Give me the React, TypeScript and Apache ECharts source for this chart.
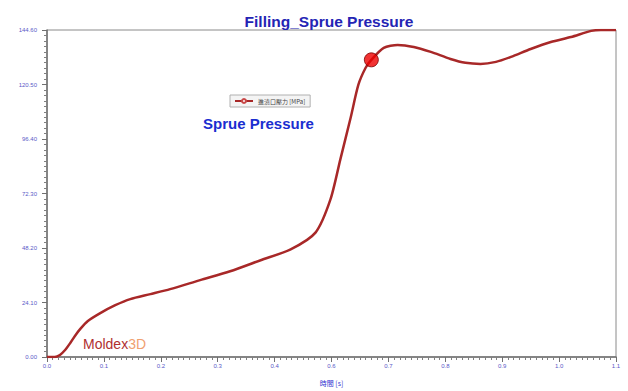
import React, { useEffect, useRef } from "react";
import * as echarts from "echarts";

const timeValues = [0.0, 0.015, 0.025, 0.035, 0.045, 0.054, 0.064, 0.079, 0.103, 0.132, 0.161, 0.2, 0.238, 0.296, 0.354, 0.413, 0.471, 0.519, 0.548, 0.567, 0.587, 0.602, 0.616, 0.627, 0.651, 0.678, 0.709, 0.742, 0.78, 0.809, 0.838, 0.868, 0.897, 0.935, 0.974, 1.013, 1.052, 1.071, 1.1];
const pressureValues = [0, 0, 0.9, 3.1, 6.2, 9.3, 12.3, 15.9, 19.4, 22.9, 25.6, 27.8, 30.0, 34.0, 37.9, 42.8, 47.6, 55.0, 69.7, 87.3, 105.8, 120.4, 127.9, 131.4, 136.7, 138.0, 137.1, 134.9, 131.8, 130.1, 129.6, 130.5, 132.7, 136.2, 139.3, 141.5, 144.2, 144.6, 144.6];
const highlightPoint = [0.627, 131.4];
const xTickLabels = ["0.0", "0.1", "0.2", "0.3", "0.4", "0.6", "0.7", "0.8", "0.9", "1.0", "1.1"];
const yTickLabels = ["0.00", "24.10", "48.20", "72.30", "96.40", "120.50", "144.60"];
const seriesName = "進澆口壓力 [MPa]";

export default function App() {
  const ref = useRef<HTMLDivElement>(null);
  useEffect(() => {
    if (!ref.current) return;
    const chart = echarts.init(ref.current, null, { renderer: "svg" });
    const axisLabelColor = "#5a5ac8";
    chart.setOption({
      animation: false,
      backgroundColor: "#ffffff",
      title: {
        text: "Filling_Sprue Pressure",
        left: 324,
        top: 8,
        textAlign: "center",
        textStyle: { fontFamily: "Liberation Sans, Arial, sans-serif", fontSize: 15.5, fontWeight: "bold", color: "#2424b4" },
      },
      legend: {
        left: 230,
        top: 95,
        orient: "vertical",
        borderColor: "#b0b0b0",
        borderWidth: 1,
        padding: [3, 5, 3, 4],
        itemWidth: 18,
        itemHeight: 5,
        itemGap: 2,
        backgroundColor: "#f4f4f4",
        textStyle: { fontSize: 6, color: "#444", fontFamily: "Noto Sans CJK TC, sans-serif" },
        data: [seriesName],
      },
      grid: {
        left: 47,
        right: 12,
        top: 30,
        bottom: 33,
        show: true,
        borderColor: "#8a8a8a",
        borderWidth: 1,
        backgroundColor: "#ffffff",
      },
      xAxis: {
        type: "value",
        min: 0,
        max: 1.1,
        interval: 0.11,
        name: "時間 [s]",
        nameLocation: "middle",
        nameGap: 22,
        nameTextStyle: { fontSize: 7, color: "#3030d0", fontFamily: "Noto Sans CJK TC, sans-serif" },
        axisLine: { show: true, lineStyle: { color: "#707070", width: 1.5 } },
        axisTick: { show: true, length: 5, lineStyle: { color: "#707070" } },
        minorTick: { show: true, splitNumber: 10, length: 3, lineStyle: { color: "#808080" } },
        splitLine: { show: false },
        axisLabel: {
          fontSize: 6,
          color: axisLabelColor,
          margin: 6,
          formatter: (v: number) => xTickLabels[Math.round(v / 0.11)] ?? "",
        },
      },
      yAxis: {
        type: "value",
        min: 0,
        max: 144.6,
        interval: 24.1,
        axisLine: { show: true, lineStyle: { color: "#707070", width: 1.5 } },
        axisTick: { show: true, length: 5, lineStyle: { color: "#707070" } },
        minorTick: { show: true, splitNumber: 10, length: 3, lineStyle: { color: "#808080" } },
        splitLine: { show: false },
        axisLabel: {
          fontSize: 6,
          color: axisLabelColor,
          margin: 10,
          formatter: (v: number) => yTickLabels[Math.round(v / 24.1)] ?? "",
        },
      },
      series: [
        {
          name: seriesName,
          type: "line",
          data: timeValues.map((t, i) => [t, pressureValues[i]]),
          smooth: 0.25,
          symbol: "emptyCircle",
          symbolSize: 3,
          showSymbol: false,
          itemStyle: { color: "#c84848" },
          lineStyle: { color: "#a82828", width: 2.5 },
          z: 2,
        },
        {
          name: "marker",
          type: "scatter",
          data: [highlightPoint],
          symbolSize: 14,
          itemStyle: { color: "#ee0000", borderColor: "#7a0000", borderWidth: 1 },
          z: 5,
        },
      ],
      graphic: [
        {
          type: "text",
          left: 203,
          top: 116,
          style: {
            text: "Sprue Pressure",
            fontFamily: "Liberation Sans, Arial, sans-serif",
            fontSize: 15,
            fontWeight: "bold",
            fill: "#1a2ed0",
          },
        },
        {
          type: "text",
          left: 83,
          top: 337,
          style: {
            rich: {
              a: { fontSize: 14, fill: "#b03030", fontFamily: "Liberation Sans, Arial, sans-serif" },
              b: { fontSize: 14, fill: "#f0a070", fontFamily: "Liberation Sans, Arial, sans-serif" },
            },
            text: "{a|Moldex}{b|3D}",
          },
        },
      ],
    });
    return () => chart.dispose();
  }, []);
  return <div ref={ref} style={{ position: "fixed", left: 0, top: 0, width: 628, height: 391 }} />;
}
